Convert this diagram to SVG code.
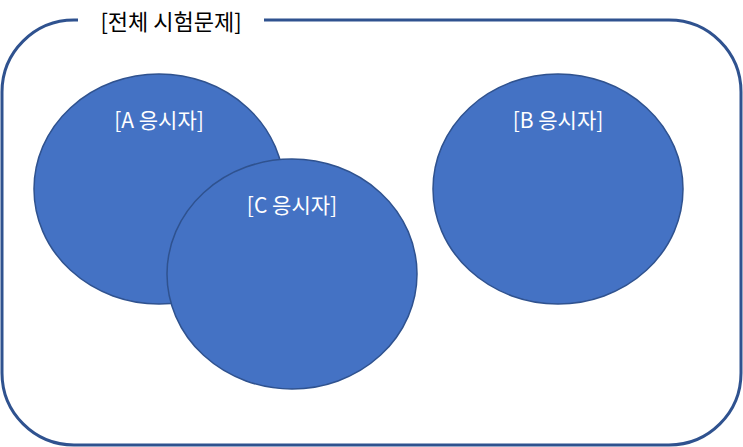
<svg xmlns="http://www.w3.org/2000/svg" width="743" height="447" viewBox="0 0 743 447">
<style>
.e{fill:#4472C4;stroke:#2F528F;stroke-width:1.5}
.l{fill:#fff;font-family:"Noto Sans CJK KR","Noto Sans",sans-serif;font-size:21px;text-anchor:middle}
</style>
<rect width="743" height="447" fill="#fff"/>
<g id="frame">
<rect x="2" y="20" width="739" height="425" rx="72" fill="none" stroke="#2F528F" stroke-width="3"/>
<rect x="78" y="8" width="186" height="26" fill="#fff"/>
<text x="171" y="30" font-family="Noto Sans CJK KR,Noto Sans,sans-serif" font-size="22" text-anchor="middle">[전체 시험문제]</text>
</g>
<g id="A"><ellipse class="e" cx="159" cy="189" rx="125" ry="115"/><text class="l" x="159" y="128">[A 응시자]</text></g>
<g id="C"><ellipse class="e" cx="292" cy="274" rx="125" ry="115"/><text class="l" x="292" y="213">[C 응시자]</text></g>
<g id="B"><ellipse class="e" cx="558" cy="189" rx="125" ry="115"/><text class="l" x="558" y="128">[B 응시자]</text></g>
<g id="connectors"></g>
</svg>
